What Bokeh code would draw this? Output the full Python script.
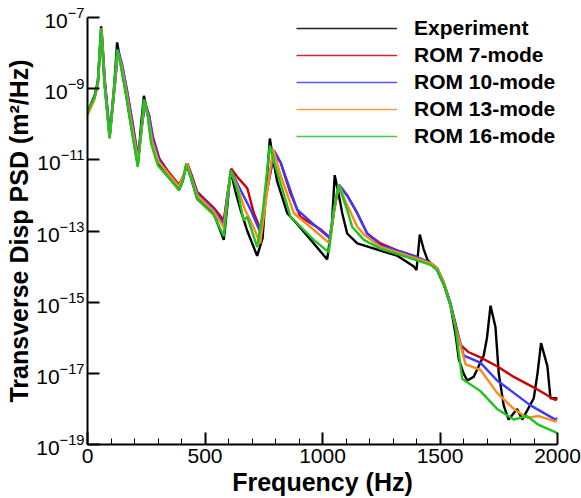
from bokeh.plotting import figure
from bokeh.models import FixedTicker, Legend, LegendItem, ColumnDataSource
from bokeh.embed import file_html
from bokeh.resources import INLINE

# ---------------- data (frequency in Hz, log10 of PSD in m^2/Hz) ----------------
exp_f = [0, 30, 44, 58, 72, 94, 115, 126, 143, 165, 186, 214, 228, 240, 257, 271, 299, 338, 389, 405,
         421, 440, 467, 537, 580, 595, 609, 630, 651, 680, 722, 745, 776, 790, 807, 850, 892, 963, 1020, 1040,
         1052, 1070, 1084, 1105, 1148, 1247, 1320, 1389, 1400, 1414, 1430, 1446, 1460, 1488, 1516, 1545, 1566,
         1580, 1600, 1616, 1643, 1686, 1700, 1715, 1736, 1750, 1771, 1792, 1828, 1850, 1899, 1915, 1930, 1957,
         1970, 2000]
exp_log = [-9.65, -9.2, -8.8, -7.25, -8.8, -10.35, -8.8, -7.7, -8.35, -9.2, -10.05, -11.15, -10.0, -9.2,
           -9.75, -10.45, -11.1, -11.35, -11.85, -11.6, -11.1, -11.5, -12.1, -12.5, -13.25, -12.3, -11.3, -11.9,
           -12.4, -13.0, -13.7, -13.2, -10.4, -11.0, -11.6, -12.5, -12.8, -13.35, -13.8, -12.8, -11.43, -12.0,
           -12.5, -13.07, -13.35, -13.55, -13.7, -14.0, -14.1, -13.1, -13.5, -13.8, -13.9, -14.1, -14.5, -15.1,
           -15.9, -16.6, -17.0, -17.2, -17.1, -16.5, -16.0, -15.1, -15.7, -17.0, -17.9, -18.3, -18.0, -18.3,
           -17.7, -17.0, -16.15, -16.8, -17.7, -17.7]

rom7_f = [0, 30, 44, 60, 74, 95, 117, 129, 145, 168, 190, 216, 230, 244, 262, 278, 305, 340, 389, 405,
          425, 442, 467, 537, 580, 595, 612, 640, 680, 708, 736, 760, 793, 821, 864, 906, 991, 1034, 1050, 1070,
          1105, 1148, 1190, 1247, 1320, 1389, 1460, 1488, 1516, 1545, 1566, 1587, 1620, 1672, 1743, 1814, 1900,
          1991, 2000]
rom7_log = [-9.7, -9.25, -8.85, -7.35, -8.8, -10.3, -8.85, -7.95, -8.3, -9.05, -9.9, -10.95, -10.1,
            -9.4, -9.75, -10.35, -10.95, -11.3, -11.7, -11.5, -11.1, -11.4, -11.9, -12.35, -12.7, -12.0, -11.25,
            -11.5, -11.8, -12.5, -12.95, -12.0, -10.85, -11.06, -11.95, -12.6, -12.95, -13.2, -12.4, -11.7,
            -12.0, -12.5, -13.07, -13.35, -13.55, -13.7, -13.9, -14.05, -14.45, -15.05, -15.6, -16.2, -16.4,
            -16.55, -16.8, -17.1, -17.4, -17.75, -17.7]

rom10_f = [0, 30, 44, 60, 74, 95, 117, 130, 147, 168, 190, 216, 230, 245, 262, 278, 305, 340, 389, 405,
           425, 442, 467, 537, 580, 595, 612, 640, 694, 736, 760, 795, 821, 892, 960, 1030, 1050, 1070, 1105,
           1148, 1190, 1247, 1320, 1389, 1460, 1488, 1516, 1545, 1566, 1601, 1672, 1743, 1814, 1885, 1991, 2000]
rom10_log = [-9.7, -9.25, -8.85, -7.35, -8.8, -10.3, -8.85, -7.9, -8.3, -9.05, -9.9, -11.0, -10.15,
             -9.4, -9.75, -10.4, -11.0, -11.35, -11.75, -11.5, -11.15, -11.45, -11.95, -12.4, -12.8, -12.0,
             -11.3, -11.7, -12.4, -13.05, -12.0, -10.75, -11.06, -12.4, -12.8, -13.2, -12.4, -11.7, -12.0,
             -12.5, -13.07, -13.4, -13.55, -13.7, -13.9, -14.05, -14.45, -15.05, -15.65, -16.5, -16.7, -17.2,
             -17.55, -17.9, -18.3, -18.25]

rom13_f = [0, 30, 44, 59, 73, 94, 116, 128, 145, 166, 188, 215, 229, 242, 259, 274, 302, 339, 389, 405,
           423, 440, 467, 537, 580, 595, 610, 640, 670, 700, 735, 760, 790, 820, 878, 960, 1030, 1050, 1070, 1100,
           1148, 1176, 1247, 1320, 1389, 1460, 1488, 1516, 1545, 1566, 1609, 1672, 1743, 1814, 1871, 1920, 1991,
           2000]
rom13_log = [-9.75, -9.3, -8.85, -7.3, -8.85, -10.4, -8.85, -7.95, -8.35, -9.1, -10.0, -11.05, -10.2,
             -9.35, -9.8, -10.45, -11.05, -11.35, -11.75, -11.5, -11.1, -11.45, -12.0, -12.45, -12.9, -12.1,
             -11.3, -11.8, -12.4, -12.8, -13.35, -12.1, -10.7, -11.4, -12.5, -12.95, -13.35, -12.4, -11.7,
             -12.2, -12.88, -13.1, -13.45, -13.6, -13.75, -13.9, -14.05, -14.45, -15.1, -15.7, -16.75, -16.9,
             -17.55, -18.0, -18.25, -18.2, -18.35, -18.3]

rom16_f = [0, 30, 44, 58, 72, 94, 115, 126, 143, 165, 186, 214, 228, 240, 257, 271, 299, 338, 389, 405,
           420, 440, 467, 537, 580, 595, 609, 640, 664, 680, 722, 745, 776, 800, 835, 864, 963, 1027, 1045, 1068,
           1105, 1126, 1176, 1247, 1320, 1389, 1460, 1488, 1516, 1545, 1566, 1594, 1672, 1743, 1814, 1870, 1920,
           1991, 2000]
rom16_log = [-9.65, -9.25, -8.85, -7.3, -8.85, -10.4, -8.85, -7.9, -8.4, -9.2, -10.1, -11.2, -10.2,
             -9.3, -9.8, -10.55, -11.15, -11.45, -11.85, -11.6, -11.15, -11.5, -12.1, -12.55, -13.15, -12.2,
             -11.3, -11.9, -12.7, -12.6, -13.45, -12.5, -10.6, -11.2, -11.95, -12.6, -13.25, -13.6, -12.5,
             -11.7, -12.41, -12.88, -13.25, -13.5, -13.65, -13.8, -13.95, -14.1, -14.5, -15.1, -15.7, -17.15,
             -17.5, -18.0, -18.3, -18.2, -18.45, -18.65, -18.7]

series_names = ["Experiment", "ROM 7-mode", "ROM 10-mode", "ROM 13-mode", "ROM 16-mode"]
series_f = [exp_f, rom7_f, rom10_f, rom13_f, rom16_f]
series_log = [exp_log, rom7_log, rom10_log, rom13_log, rom16_log]
series_colors = ["#000000", "#cc0000", "#3a3aff", "#ff8a1c", "#1fc41f"]

x_major = [0, 500, 1000, 1500, 2000]
x_minor = [100, 200, 300, 400, 600, 700, 800, 900, 1100, 1200, 1300, 1400, 1600, 1700, 1800, 1900]
y_major = [1e-19, 1e-17, 1e-15, 1e-13, 1e-11, 1e-9, 1e-7]

FONT = "Liberation Sans"

p = figure(width=581, height=498, x_range=(0, 2000), y_range=(1e-19, 1e-7), y_axis_type="log",
           output_backend="svg", toolbar_location=None,
           min_border_left=87, min_border_right=24, min_border_top=17, min_border_bottom=53)

p.outline_line_color = None
p.xgrid.visible = False
p.ygrid.visible = False
p.background_fill_color = "white"
p.border_fill_color = "white"

legend_items = []
for name, fs, ls, col in zip(series_names, series_f, series_log, series_colors):
    src = ColumnDataSource(dict(x=fs, y=[10.0 ** v for v in ls]))
    p.line("x", "y", source=src, line_color=col, line_width=2.4)
for name, col in zip(series_names, series_colors):
    dummy = p.line(x=[float("nan")], y=[float("nan")], line_color=col, line_width=1.3, line_alpha=0.85)
    legend_items.append(LegendItem(label=name, renderers=[dummy]))

# axes
xa = p.xaxis[0]
xa.ticker = FixedTicker(ticks=x_major, minor_ticks=x_minor)
xa.axis_label = "Frequency (Hz)"
ya = p.yaxis[0]
ya.ticker = FixedTicker(ticks=y_major, minor_ticks=[])
ya.axis_label = "Transverse Disp PSD (m\u00b2/Hz)"

for ax in (xa, ya):
    ax.axis_line_width = 2
    ax.axis_line_color = "black"
    ax.major_tick_in = 12
    ax.major_tick_out = 0
    ax.major_tick_line_width = 2
    ax.minor_tick_in = 6
    ax.minor_tick_out = 0
    ax.minor_tick_line_width = 1
    ax.major_label_text_font = FONT
    ax.major_label_text_font_size = "21px"
    ax.major_label_text_color = "black"
    ax.axis_label_text_font = FONT
    ax.axis_label_text_font_size = "25px"
    ax.axis_label_text_font_style = "bold"
    ax.axis_label_text_color = "black"
ya.minor_tick_line_color = None
xa.major_label_standoff = 4
xa.axis_label_standoff = 2
ya.major_label_standoff = 3
ya.axis_label_standoff = 0

legend = Legend(items=legend_items, location=(209, 296))
legend.border_line_color = None
legend.background_fill_alpha = 0
legend.padding = 0
legend.margin = 0
legend.spacing = 3
legend.glyph_width = 101
legend.glyph_height = 20
legend.label_height = 20
legend.label_standoff = 17
legend.label_text_font = FONT
legend.label_text_font_size = "21px"
legend.label_text_font_style = "bold"
legend.label_text_color = "black"
p.add_layout(legend)

open("out.html", "w").write(file_html(p, INLINE))
